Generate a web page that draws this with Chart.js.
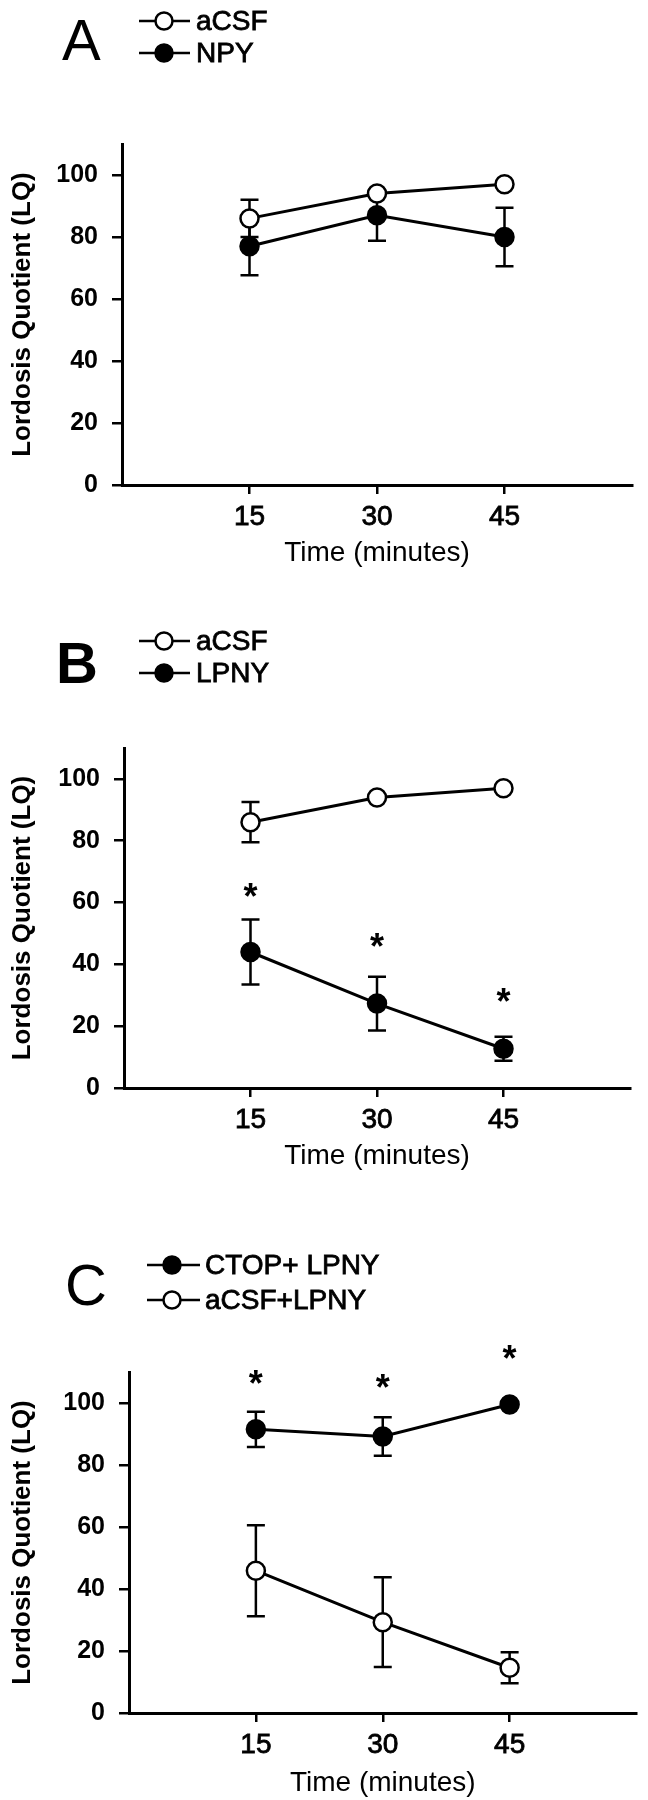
<!DOCTYPE html>
<html lang="en">
<head>
<meta charset="UTF-8">
<title>Lordosis Quotient</title>
<script src="https://cdn.jsdelivr.net/npm/chart.js@4.4.1/dist/chart.umd.min.js"></script>
<style>
  html, body { margin: 0; padding: 0; background: #fff; }
  body { width: 648px; height: 1800px; position: relative; overflow: hidden; }
  .panel { position: absolute; left: 0; width: 648px; }
</style>
</head>
<body>
<div class="panel" style="top:0;height:600px"><canvas id="chartA"></canvas></div>
<div class="panel" style="top:620px;height:590px"><canvas id="chartB"></canvas></div>
<div class="panel" style="top:1230px;height:570px"><canvas id="chartC"></canvas></div>

<script>
// data
const minutes = [15, 30, 45];
const xTicks = [15, 30, 45];
const yTicks = [0, 20, 40, 60, 80, 100];

// A
const aCsfA = [86, 94, 97];
const aCsfAErr = [6, 0, 0];
const npyA = [77, 87, 80];
const npyAErr = [9.3, 8.2, 9.4];

// B
const aCsfB = [86, 94, 97];
const aCsfBErr = [6.5, 0, 0];
const lpnyB = [44, 27.3, 12.7];
const lpnyBErr = [10.5, 8.7, 3.9];
const starsB = [64, 48, 30];

// C
const ctopC = [91.5, 89.2, 99.5];
const ctopCErr = [5.7, 6.2, 0];
const aCsfLpnyC = [45.9, 29.3, 14.6];
const aCsfLpnyCErr = [14.7, 14.5, 5];
const starsC = [108.5, 107, 116.5];

const FONT = '"Liberation Sans", Arial, Helvetica, sans-serif';
Chart.defaults.font.family = FONT;
Chart.defaults.color = '#000';

function series(label, values, errors, filled) {
  return {
    label: label,
    data: minutes.map((m, i) => ({ x: m, y: values[i] })),
    errors: errors,
    filled: filled,
    borderColor: '#000',
    borderWidth: 3,
    tension: 0,
    pointRadius: 9,
    pointHoverRadius: 9,
    pointBorderWidth: 2.5,
    pointBackgroundColor: filled ? '#000' : '#fff',
    pointBorderColor: '#000'
  };
}

// error bars under the markers
const errorBars = {
  id: 'errorBars',
  beforeDatasetsDraw(chart) {
    const { ctx, scales: { x, y } } = chart;
    ctx.save();
    ctx.strokeStyle = '#000';
    ctx.lineWidth = 2.5;
    chart.data.datasets.forEach(ds => {
      ds.data.forEach((p, i) => {
        const e = ds.errors[i];
        if (!e) return;
        const px = x.getPixelForValue(p.x);
        const top = y.getPixelForValue(p.y + e);
        const bot = y.getPixelForValue(p.y - e);
        ctx.beginPath();
        ctx.moveTo(px, top); ctx.lineTo(px, bot);
        ctx.moveTo(px - 9, top); ctx.lineTo(px + 9, top);
        ctx.moveTo(px - 9, bot); ctx.lineTo(px + 9, bot);
        ctx.stroke();
      });
    });
    ctx.restore();
  }
};

// significance asterisks
const stars = {
  id: 'stars',
  afterDatasetsDraw(chart, args, opts) {
    if (!opts.values) return;
    const { ctx, scales: { x, y } } = chart;
    ctx.save();
    ctx.fillStyle = '#000';
    ctx.font = 'bold 36px ' + FONT;
    ctx.textAlign = 'center';
    ctx.textBaseline = 'alphabetic';
    const m = ctx.measureText('*');
    const shift = (m.actualBoundingBoxAscent - m.actualBoundingBoxDescent) / 2;
    opts.values.forEach((v, i) => {
      ctx.fillText('*', x.getPixelForValue(minutes[i]), y.getPixelForValue(v) + shift);
    });
    ctx.restore();
  }
};

// panel letter and the line-and-marker legend
const panelDeco = {
  id: 'panelDeco',
  afterDraw(chart, args, opts) {
    const ctx = chart.ctx;
    ctx.save();
    ctx.fillStyle = '#000';
    ctx.strokeStyle = '#000';
    ctx.font = (opts.letterBold ? 'bold ' : '') + '58px ' + FONT;
    ctx.textBaseline = 'alphabetic';
    ctx.textAlign = 'left';
    ctx.fillText(opts.letter, opts.letterX, opts.letterY);

    ctx.font = '28px ' + FONT;
    ctx.textBaseline = 'middle';
    chart.data.datasets.forEach((ds, i) => {
      const ry = opts.rows[i];
      ctx.lineWidth = 2.5;
      ctx.beginPath();
      ctx.moveTo(opts.lineX0, ry); ctx.lineTo(opts.lineX1, ry);
      ctx.stroke();
      ctx.beginPath();
      ctx.arc(opts.markX, ry, 8.5, 0, Math.PI * 2);
      ctx.fillStyle = ds.filled ? '#000' : '#fff';
      ctx.fill();
      ctx.stroke();
      ctx.fillStyle = '#000';
      ctx.fillText(ds.label, opts.textX, ry + 1);
      ctx.lineWidth = 0.8;
      ctx.strokeText(ds.label, opts.textX, ry + 1);
    });
    ctx.restore();
  }
};

function makePanel(id, datasets, box, deco, starValues) {
  new Chart(document.getElementById(id), {
    type: 'line',
    data: { datasets: datasets },
    plugins: [errorBars, stars, panelDeco],
    options: {
      responsive: true,
      maintainAspectRatio: false,
      animation: false,
      layout: { padding: { top: box.top, right: box.right, left: 0, bottom: 0 } },
      plugins: {
        legend: { display: false },
        tooltip: { enabled: false },
        stars: { values: starValues },
        panelDeco: deco
      },
      scales: {
        x: {
          type: 'linear',
          min: 0,
          max: 60,
          afterBuildTicks: s => { s.ticks = xTicks.map(v => ({ value: v })); },
          afterFit: s => { s.height = box.xHeight; },
          border: { display: true, color: '#000', width: 3 },
          grid: { drawOnChartArea: false, drawTicks: true, tickLength: 9, color: '#000', lineWidth: 2.5 },
          ticks: { font: { size: 28 }, padding: 6, maxRotation: 0, textStrokeColor: '#000', textStrokeWidth: 0.8 },
          title: { display: true, text: 'Time (minutes)', font: { size: 28 }, padding: { top: 0, bottom: box.titlePad } }
        },
        y: {
          min: 0,
          max: 110,
          afterBuildTicks: s => { s.ticks = yTicks.map(v => ({ value: v })); },
          afterFit: s => { s.width = box.left; },
          border: { display: true, color: '#000', width: 3 },
          grid: { drawOnChartArea: false, drawTicks: true, tickLength: 10, color: '#000', lineWidth: 2.5 },
          ticks: { font: { size: 25, weight: 'bold' }, padding: 14 },
          title: { display: true, text: 'Lordosis Quotient (LQ)', font: { size: 26, weight: 'bold' }, padding: { top: 7, bottom: 0 } }
        }
      }
    }
  });
}

makePanel('chartA',
  [series('aCSF', aCsfA, aCsfAErr, false), series('NPY', npyA, npyAErr, true)],
  { top: 144, right: 16, left: 122, xHeight: 600 - 485, titlePad: 30 },
  { letter: 'A', letterX: 62, letterY: 60, rows: [21, 53], lineX0: 139, lineX1: 190, markX: 164, textX: 196 },
  null);

makePanel('chartB',
  [series('aCSF', aCsfB, aCsfBErr, false), series('LPNY', lpnyB, lpnyBErr, true)],
  { top: 128, right: 18, left: 124, xHeight: 590 - 468, titlePad: 37 },
  { letter: 'B', letterBold: true, letterX: 56, letterY: 63, rows: [21, 53], lineX0: 139, lineX1: 190, markX: 164, textX: 196 },
  starsB);

makePanel('chartC',
  [series('CTOP+ LPNY', ctopC, ctopCErr, true), series('aCSF+LPNY', aCsfLpnyC, aCsfLpnyCErr, false)],
  { top: 142, right: 10, left: 129, xHeight: 570 - 483, titlePad: 0 },
  { letter: 'C', letterX: 65, letterY: 75, rows: [35, 70], lineX0: 147, lineX1: 200, markX: 172, textX: 205 },
  starsC);
</script>
</body>
</html>
